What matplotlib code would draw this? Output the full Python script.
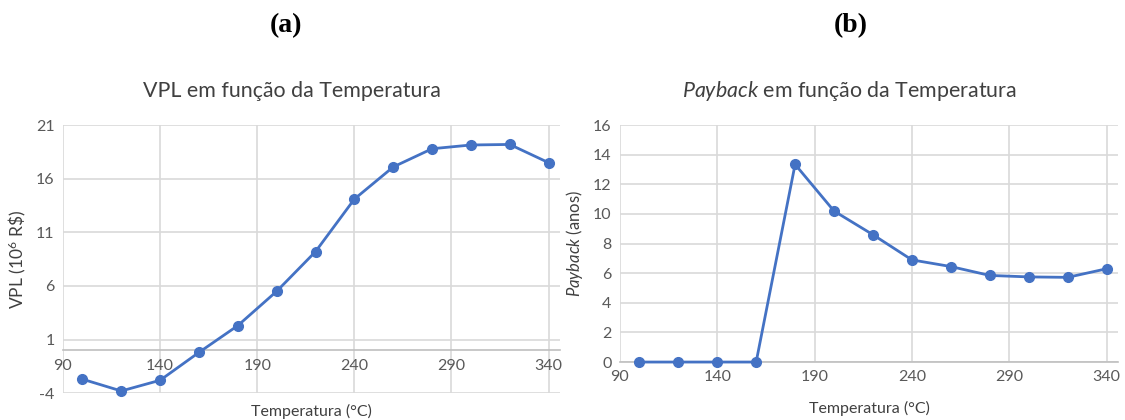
#VPL e payback em funcao da temperatura, graficos (a) e (b)
import numpy as np
from matplotlib import pyplot as plt

plt.rcParams['font.family'] = ['Lato', 'DejaVu Sans']
plt.rcParams['mathtext.fontset'] = 'custom'
plt.rcParams['mathtext.rm'] = 'Lato'
plt.rcParams['mathtext.it'] = 'Lato:italic'
plt.rcParams['axes.unicode_minus'] = False

#dados
temperatura = [100, 120, 140, 160, 180, 200, 220, 240, 260, 280, 300, 320, 340]
vpl = [-2.7, -3.8, -2.8, -0.2, 2.3, 5.5, 9.2, 14.1, 17.1, 18.8, 19.15, 19.2, 17.5]
payback = [0, 0, 0, 0, 13.35, 10.2, 8.6, 6.9, 6.45, 5.85, 5.75, 5.72, 6.3]

xticks = [90, 140, 190, 240, 290, 340]
vpl_ticks = [-4, 1, 6, 11, 16, 21]
payback_ticks = [0, 2, 4, 6, 8, 10, 12, 14, 16]

azul = '#4472C4'
cinza = '#595959'
grade = '#D9D9D9'

fig = plt.figure(figsize=(11.25, 4.2), dpi=100)
ax1 = fig.add_axes([0.056, 0.064, 0.442, 0.638])
ax2 = fig.add_axes([0.551, 0.138, 0.443, 0.564])

def estilo(ax):
    ax.grid(True, color=grade, linewidth=1.2)
    ax.set_axisbelow(True)
    for s in ['top', 'right', 'left']:
        ax.spines[s].set_visible(False)
    ax.spines['bottom'].set_color('#BFBFBF')
    ax.spines['bottom'].set_linewidth(1.2)
    ax.tick_params(length=0, labelsize=11.5, colors=cinza, pad=6)
    ax.set_xticks(xticks)
    ax.set_xlim(90, 346)

#(a) VPL
ax1.plot(temperatura, vpl, color=azul, linewidth=2, marker='o', markersize=7, clip_on=False, zorder=3)
estilo(ax1)
ax1.set_ylim(-4, 21)
ax1.set_yticks(vpl_ticks)
ax1.spines['bottom'].set_position(('data', 0))
ax1.set_ylabel('VPL (10$^6$ R\\$)', fontsize=12.5, color='#404040', labelpad=6)
ax1.set_xlabel('Temperatura (°C)', fontsize=11.5, color='#404040')
ax1.xaxis.set_label_coords(0.5, -0.04)
ax1.set_title('VPL em função da Temperatura', fontsize=15.4, color='#404040', pad=20, x=0.46)

#(b) payback
ax2.plot(temperatura, payback, color=azul, linewidth=2, marker='o', markersize=7, clip_on=False, zorder=3)
estilo(ax2)
ax2.set_ylim(0, 16)
ax2.set_yticks(payback_ticks)
ax2.set_ylabel('$\\mathit{Payback}$ (anos)', fontsize=12, color='#404040', labelpad=6)
ax2.set_xlabel('Temperatura (°C)', fontsize=11.5, color='#404040', labelpad=12)
ax2.set_title('$\\mathit{Payback}$ em função da Temperatura', fontsize=15.4, color='#404040', pad=20, x=0.46)

fig.text(0.254, 0.94, '(a)', fontsize=20, fontweight='bold', family='Liberation Serif', ha='center', va='center')
fig.text(0.756, 0.94, '(b)', fontsize=20, fontweight='bold', family='Liberation Serif', ha='center', va='center')

plt.savefig('out.png', dpi=100)
